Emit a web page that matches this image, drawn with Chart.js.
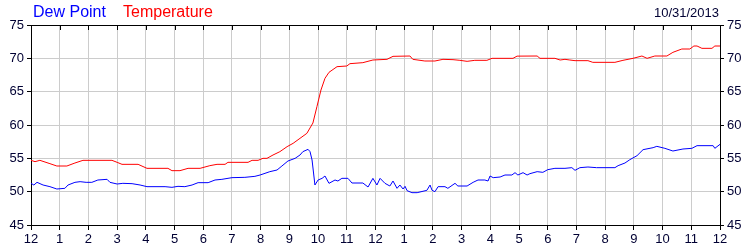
<!DOCTYPE html>
<html>
<head>
<meta charset="utf-8">
<script src="https://cdn.jsdelivr.net/npm/chart.js@4.4.1/dist/chart.umd.min.js"></script>
<style>
  body { margin: 0; background: #fff; }
  #wrap { position: relative; width: 750px; height: 250px; }
  .lbl { position: absolute; font-family: "Liberation Sans", Arial, sans-serif; white-space: nowrap; }
</style>
</head>
<body>
<div id="wrap">
  <canvas id="chart" width="750" height="250"></canvas>
  <div class="lbl" style="left:33px; top:3px; font-size:16px; color:#0000ff;">Dew Point</div>
  <div class="lbl" style="left:123px; top:3px; font-size:16px; color:#ff0000;">Temperature</div>
  <div class="lbl" style="right:31px; top:5px; font-size:13px; color:#000033;">10/31/2013</div>
</div>
<script>
// hours after midnight, 10/31/2013
const tempHours = [0, 0.14, 0.31, 0.66, 0.9, 1.25, 1.53, 1.81, 2.82, 3.0, 3.17, 3.73, 4.04, 4.77, 4.91, 5.19, 5.47, 5.89, 6.23, 6.48, 6.76, 6.86, 7.56, 7.7, 7.91, 8.08, 8.22, 8.43, 8.67, 8.92, 9.13, 9.37, 9.61, 9.82, 9.96, 10.1, 10.24, 10.38, 10.66, 11.0, 11.11, 11.56, 11.91, 12.4, 12.61, 13.2, 13.3, 13.72, 14.07, 14.35, 14.7, 14.94, 15.19, 15.46, 15.88, 16.06, 16.79, 16.93, 17.63, 17.73, 18.25, 18.43, 18.6, 18.77, 18.95, 19.4, 19.57, 20.34, 20.62, 20.97, 21.28, 21.46, 21.73, 22.15, 22.36, 22.67, 22.95, 23.09, 23.2, 23.37, 23.72, 23.82, 24];
const tempValues = [54.7, 54.5, 54.7, 54.2, 53.85, 53.85, 54.3, 54.7, 54.7, 54.4, 54.1, 54.1, 53.5, 53.5, 53.15, 53.15, 53.5, 53.5, 53.9, 54.1, 54.1, 54.4, 54.4, 54.7, 54.7, 55.0, 55.0, 55.5, 56.0, 56.75, 57.25, 58.0, 58.75, 60.3, 62.75, 65.25, 67.0, 67.9, 68.75, 68.85, 69.2, 69.35, 69.75, 69.85, 70.3, 70.35, 69.85, 69.6, 69.6, 69.85, 69.8, 69.7, 69.55, 69.7, 69.7, 70.0, 70.0, 70.33, 70.35, 70.0, 70.0, 69.75, 69.85, 69.75, 69.65, 69.65, 69.4, 69.4, 69.7, 70.0, 70.35, 70.0, 70.35, 70.35, 70.9, 71.4, 71.4, 71.85, 71.85, 71.5, 71.5, 71.85, 71.85];

const dewHours = [0, 0.1, 0.21, 0.42, 0.66, 0.9, 1.18, 1.29, 1.53, 1.71, 1.92, 2.12, 2.33, 2.65, 2.75, 3.0, 3.2, 3.52, 3.8, 4.04, 4.67, 4.91, 5.12, 5.36, 5.61, 5.82, 6.17, 6.41, 6.65, 7.0, 7.45, 7.8, 7.98, 8.32, 8.57, 8.74, 8.95, 9.2, 9.37, 9.47, 9.65, 9.72, 9.79, 9.89, 10.0, 10.14, 10.24, 10.38, 10.59, 10.69, 10.83, 11.04, 11.18, 11.56, 11.74, 11.91, 12.05, 12.16, 12.33, 12.5, 12.61, 12.75, 12.85, 12.96, 13.03, 13.1, 13.27, 13.45, 13.79, 13.9, 13.97, 14.07, 14.18, 14.42, 14.52, 14.77, 14.87, 15.19, 15.4, 15.57, 15.81, 15.92, 15.99, 16.1, 16.34, 16.51, 16.75, 16.86, 16.96, 17.14, 17.28, 17.38, 17.63, 17.83, 18.0, 18.25, 18.6, 18.84, 18.95, 19.12, 19.4, 19.7, 20.34, 20.45, 20.69, 20.86, 21.11, 21.32, 21.67, 21.8, 22.08, 22.36, 22.71, 23.02, 23.2, 23.76, 23.82, 24];
const dewValues = [51.25, 51.0, 51.4, 51.0, 50.75, 50.4, 50.5, 51.0, 51.4, 51.5, 51.4, 51.4, 51.75, 51.85, 51.4, 51.15, 51.25, 51.2, 51.0, 50.75, 50.75, 50.65, 50.8, 50.75, 51.0, 51.35, 51.35, 51.75, 51.85, 52.1, 52.15, 52.3, 52.5, 53.0, 53.25, 53.85, 54.6, 55.0, 55.5, 56.0, 56.35, 56.0, 54.75, 51.0, 51.75, 52.0, 52.35, 51.25, 51.75, 51.6, 52.0, 52.0, 51.3, 51.3, 50.7, 52.0, 51.0, 52.0, 51.25, 50.85, 51.6, 50.5, 51.0, 50.4, 50.8, 50.15, 49.85, 49.85, 50.2, 51.0, 50.2, 50.0, 50.75, 50.75, 50.5, 51.25, 50.85, 50.85, 51.4, 51.75, 51.75, 51.6, 52.35, 52.1, 52.2, 52.5, 52.5, 52.85, 52.5, 52.85, 52.5, 52.7, 53.0, 52.9, 53.3, 53.5, 53.5, 53.6, 53.2, 53.6, 53.7, 53.6, 53.6, 53.9, 54.3, 54.8, 55.4, 56.3, 56.6, 56.8, 56.5, 56.1, 56.4, 56.5, 56.9, 56.9, 56.5, 57.1];

const yTicks = [45, 50, 55, 60, 65, 70, 75];
const xTickLabels = ['12', '1', '2', '3', '4', '5', '6', '7', '8', '9', '10', '11',
                     '12', '1', '2', '3', '4', '5', '6', '7', '8', '9', '10', '11', '12'];

const toPoints = (hs, vs) => hs.map((h, i) => ({ x: h, y: vs[i] }));

const tickFont = { family: '"Liberation Sans", Arial, sans-serif', size: 13 };

// top border with short inward tick marks
const framePlugin = {
  id: 'frame',
  afterDraw(chart) {
    const { ctx, chartArea, scales } = chart;
    ctx.save();
    ctx.strokeStyle = '#000';
    ctx.lineWidth = 1;
    ctx.beginPath();
    ctx.moveTo(chartArea.left, chartArea.top + 0.5);
    ctx.lineTo(chartArea.right, chartArea.top + 0.5);
    for (let h = 1; h < 24; h++) {
      const px = Math.round(scales.x.getPixelForValue(h)) + 0.5;
      ctx.moveTo(px, chartArea.top);
      ctx.lineTo(px, chartArea.top + 5);
    }
    ctx.stroke();
    ctx.restore();
  }
};

new Chart(document.getElementById('chart'), {
  type: 'line',
  data: {
    datasets: [
      {
        label: 'Dew Point',
        data: toPoints(dewHours, dewValues),
        borderColor: '#0000ff',
        borderWidth: 1,
        pointRadius: 0,
        tension: 0
      },
      {
        label: 'Temperature',
        data: toPoints(tempHours, tempValues),
        borderColor: '#ff0000',
        borderWidth: 1,
        pointRadius: 0,
        tension: 0
      }
    ]
  },
  options: {
    responsive: false,
    animation: false,
    layout: { padding: { top: 25, left: 0, right: 0, bottom: 0 } },
    plugins: { legend: { display: false }, tooltip: { enabled: false } },
    scales: {
      x: {
        type: 'linear',
        min: 0,
        max: 24,
        afterBuildTicks: s => { s.ticks = xTickLabels.map((_, i) => ({ value: i })); },
        afterFit: s => { s.height = 25; },
        ticks: {
          autoSkip: false,
          maxRotation: 0,
          padding: 2,
          color: '#000033',
          font: tickFont,
          callback: v => xTickLabels[v]
        },
        grid: { color: '#cccccc', tickColor: '#000', tickLength: 5 },
        border: { color: '#000', width: 1 }
      },
      y: {
        position: 'left',
        min: 45,
        max: 75,
        afterBuildTicks: s => { s.ticks = yTicks.map(v => ({ value: v })); },
        afterFit: s => { s.width = 31; },
        ticks: { padding: 3, color: '#000033', font: tickFont },
        grid: { color: '#cccccc', tickColor: '#000', tickLength: 4 },
        border: { color: '#000', width: 1 }
      },
      y2: {
        position: 'right',
        min: 45,
        max: 75,
        afterBuildTicks: s => { s.ticks = yTicks.map(v => ({ value: v })); },
        afterFit: s => { s.width = 30; },
        ticks: { padding: 3, color: '#000033', font: tickFont },
        grid: { drawOnChartArea: false, tickColor: '#000', tickLength: 4 },
        border: { color: '#000', width: 1 }
      }
    }
  },
  plugins: [framePlugin]
});
</script>
</body>
</html>
